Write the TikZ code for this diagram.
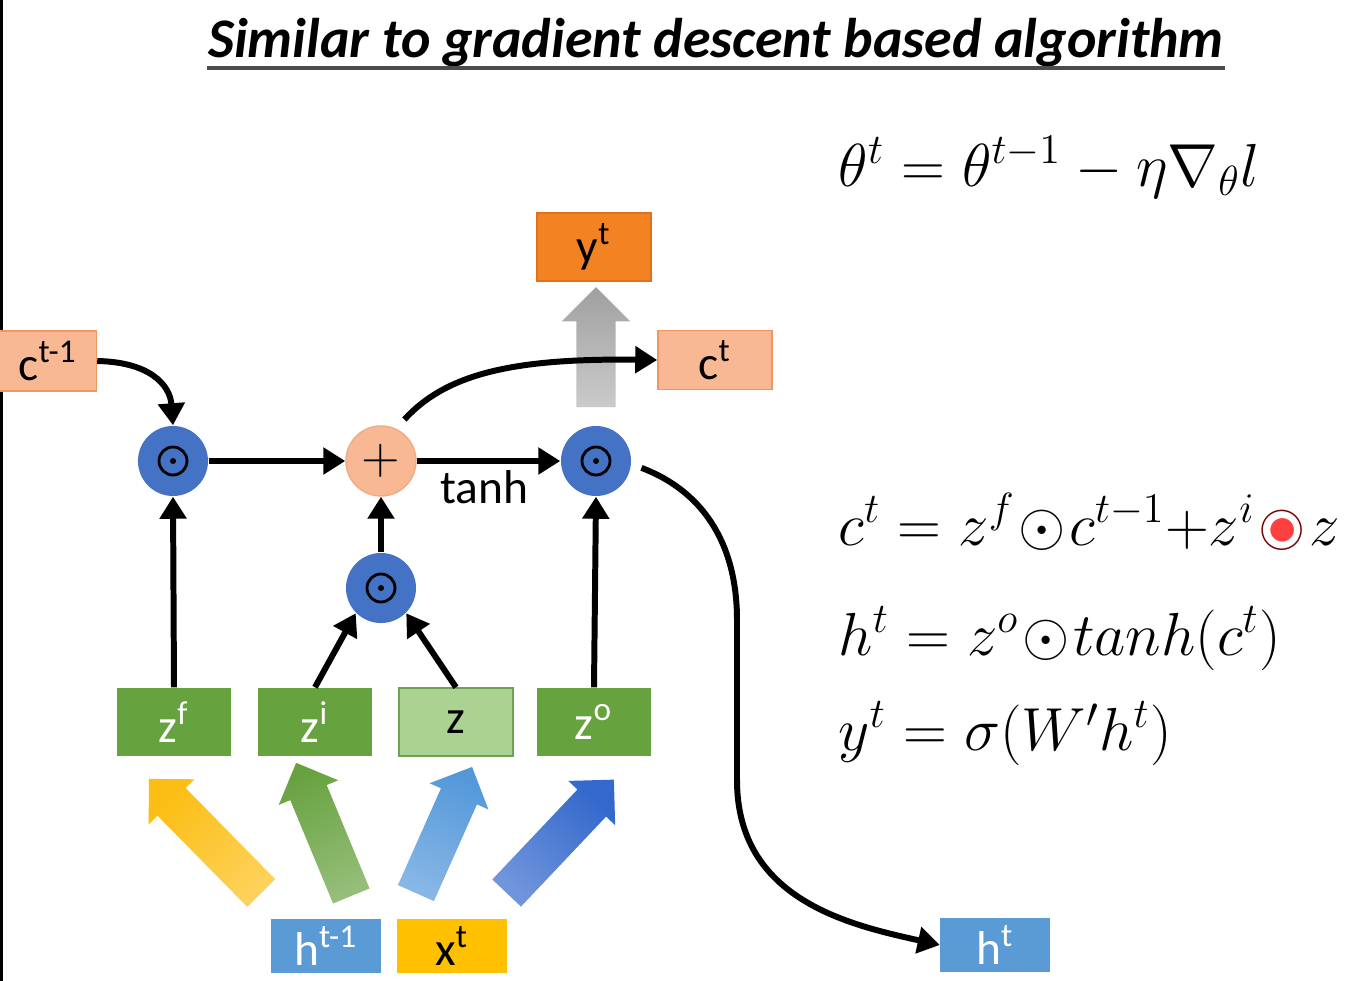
\documentclass[tikz,border=0pt]{standalone}
\usepackage{amsmath}
\usepackage{fontspec}
\setmainfont{Carlito}
\usetikzlibrary{arrows.meta,shapes.arrows,positioning,calc}

\definecolor{cblue}{RGB}{68,114,196}
\definecolor{cpeach}{RGB}{248,184,148}
\definecolor{cpeachb}{RGB}{238,150,100}
\definecolor{corange}{RGB}{242,130,34}
\definecolor{corangeb}{RGB}{222,112,30}
\definecolor{zgreen}{RGB}{102,162,62}
\definecolor{zlight}{RGB}{172,210,146}
\definecolor{zlightb}{RGB}{112,160,82}
\definecolor{hblue}{RGB}{91,155,213}
\definecolor{xyellow}{RGB}{255,192,0}
\definecolor{ayellow}{RGB}{252,190,20}
\definecolor{agreen}{RGB}{104,162,64}
\definecolor{ablue}{RGB}{84,152,218}
\definecolor{adblue}{RGB}{52,104,204}
\definecolor{agray}{RGB}{160,160,160}

\newcommand{\hotodot}{\mathbin{\ooalign{$\color{red!45!black}\odot$\cr\hidewidth$\color{red!75}\bullet$\hidewidth\cr}}}

\begin{document}
\begin{tikzpicture}[x=0.01cm,y=-0.01cm,font=\fontsize{13.5}{16}\selectfont,
  box/.style={rectangle,minimum width=1.14cm,minimum height=0.68cm,inner sep=0pt},
  smallbox/.style={rectangle,minimum width=1.09cm,minimum height=0.54cm,inner sep=0pt},
  odotnode/.style={circle,fill=cblue,minimum size=0.7cm,inner sep=0pt,
    path picture={\draw[line width=0.8pt] (path picture bounding box.center) circle (0.14cm);
      \fill[black] (path picture bounding box.center) circle (0.03cm);}},
  conn/.style={line width=1.7pt,-{Triangle[length=0.22cm,width=0.26cm]}},
  fat/.style={single arrow,single arrow tip angle=90,single arrow head extend=0.125cm,
    inner xsep=0pt,inner ysep=0.19cm,minimum width=0pt},
  eq/.style={anchor=base west,inner sep=0pt,font=\fontsize{17}{20}\selectfont}]
  \useasboundingbox (0,0) rectangle (1356,981);
  \fill[white] (0,0) rectangle (1356,981);
  \draw[line width=1pt] (1,0) -- (1,981);
  % titolo
  \node[inner sep=0pt,font=\fontsize{15.9}{18}\selectfont\bfseries\itshape] (title) at (716,43) {Similar to gradient descent based algorithm};
  \draw[line width=0.9pt,black!70] (title.south west) -- (title.south east);
  % equazioni
  \node[eq] (eqtheta) at (838,186) {$\theta^t = \theta^{t-1} - \eta\nabla_\theta l$};
  \node[eq] (eqc) at (838,545) {$c^t = z^f\!\odot\! c^{t-1}{+}z^i\!\hotodot\! z$};
  \node[eq] (eqh) at (838,655) {$h^t = z^o\!\odot\! tanh(c^t)$};
  \node[eq] (eqy) at (838,750) {$y^t = \sigma(W'h^t)$};
  % frecce colorate
  \foreach \c/\px/\py/\a/\l [count=\i] in {ayellow/212/843/134.5/1.60,agreen/327.5/838.5/112.5/1.44,ablue/440/839/66/1.38,adblue/553.5/843.5/46.6/1.56}
    \node[fat,left color=\c!70,right color=\c,shading angle=\a+90,rotate=\a,minimum height=\l cm] (in\i) at (\px,\py) {};
  \node[fat,left color=agray!55,right color=agray,shading angle=180,rotate=90,minimum height=1.2cm,single arrow head extend=0.145cm] (upout) at (596,357) {};
  % blocchi
  \node[box,fill=cpeach,draw=cpeachb,minimum width=0.97cm,minimum height=0.6cm] (cprev) at (48,361) {c\textsuperscript{t-1}};
  \node[box,fill=corange,draw=corangeb] (yt) at (594,247) {y\textsuperscript{t}};
  \node[box,fill=cpeach,draw=cpeachb,minimum height=0.59cm] (ct) at (715,360) {c\textsuperscript{t}};
  \node[box,fill=zgreen,text=white] (zf) at (174,722) {z\textsuperscript{f}};
  \node[box,fill=zgreen,text=white] (zi) at (315,722) {z\textsuperscript{i}};
  \node[box,fill=zlight,draw=zlightb] (zz) at (456,722) {z};
  \node[box,fill=zgreen,text=white] (zo) at (594,722) {z\textsuperscript{o}};
  \node[smallbox,fill=hblue,text=white] (hprev) at (326,946) {h\textsuperscript{t-1}};
  \node[smallbox,fill=xyellow] (xt) at (452,946) {x\textsuperscript{t}};
  \node[smallbox,fill=hblue,text=white] (ht) at (995,945) {h\textsuperscript{t}};
  % operatori
  \node[odotnode] (m1) at (173,461) {};
  \node[circle,fill=cpeach,draw=cpeachb!80,minimum size=0.7cm,inner sep=0pt] (plus) at (381,461) {$+$};
  \node[odotnode] (m3) at (596,461) {};
  \node[odotnode] (m2) at (381,588) {};
  \node (tanhlbl) at (484,487) {tanh};
  % collegamenti
  \draw[conn] (cprev.east) .. controls (150,362) and (170,385) .. (m1.north);
  \draw[conn] (m1) -- (plus);
  \draw[conn] (plus) -- (m3);
  \draw[conn,shorten <=3.5pt] (plus.65) .. controls (445,375) and (510,358) .. (ct.west);
  \draw[conn] (m2) -- (plus);
  \draw[conn] (zf.north) -- (m1.south);
  \draw[conn] (zi.north) -- (m2.south west);
  \draw[conn] (zz.north) -- (m2.south east);
  \draw[conn] (zo.north) -- (m3.south);
  \draw[conn,shorten <=3pt] (m3.-5) .. controls (700,490) and (737,540) .. (737,620) -- (737,780) .. controls (737,900) and (850,925) .. (ht.west);
\end{tikzpicture}
\end{document}
